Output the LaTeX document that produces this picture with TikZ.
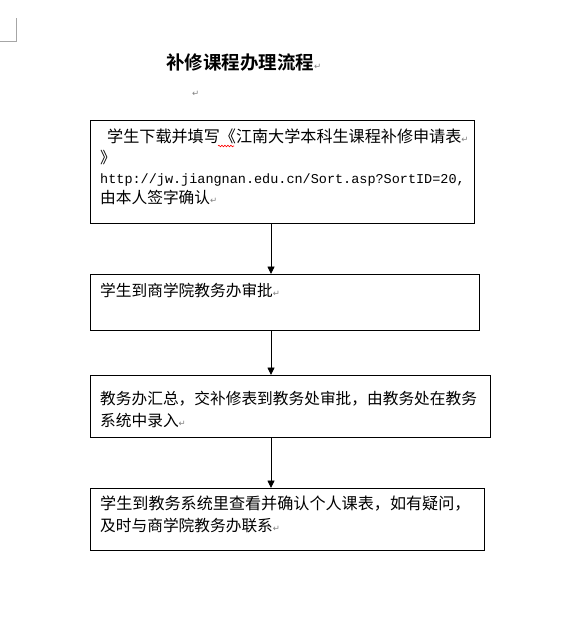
\documentclass[tikz,border=0pt]{standalone}
\usepackage{fontspec}
\newfontfamily\cjk{Noto Sans CJK SC}
\newfontfamily\cjkb{Noto Sans CJK SC Bold}
\newfontfamily\symf{DejaVu Sans}
\setmonofont{Liberation Mono}
\usetikzlibrary{arrows.meta,decorations.pathmorphing}
\newcommand{\pmark}{{\color{gray}\symf\fontsize{8.5pt}{8.5pt}\selectfont ↵}}
\begin{document}
\begin{tikzpicture}[x=1pt,y=-1pt,
  box/.style={draw=black,line width=0.9pt,anchor=north west,inner sep=0pt},
  txt/.style={anchor=base west,inner sep=0pt,font=\cjk\fontsize{15.7pt}{20pt}\selectfont},
  wtxt/.style={txt,font=\cjk\fontsize{16.1pt}{20pt}\selectfont},
  url/.style={anchor=base west,inner sep=0pt,font=\ttfamily\fontsize{13.5pt}{20pt}\selectfont},
  arr/.style={line width=0.9pt,-{Triangle[length=7.5pt,width=7pt]}}]
\useasboundingbox (0,0) rectangle (564,631);
% corner mark
\draw[gray!70,line width=0.7pt] (0,41) -- (16,41) -- (16,18);
% title
\node[anchor=base west,inner sep=0pt,font=\cjkb\fontsize{18.5pt}{22pt}\selectfont] (title) at (166,70) {补修课程办理流程\pmark};
\node[anchor=base west,inner sep=0pt] (pm) at (192,97) {\pmark};
% boxes
\node[box,minimum width=384pt,minimum height=103pt] (b1) at (90,120) {};
\node[box,minimum width=389pt,minimum height=56pt] (b2) at (90,274) {};
\node[box,minimum width=400pt,minimum height=62pt] (b3) at (90,375) {};
\node[box,minimum width=394pt,minimum height=62pt] (b4) at (90,488) {};
% box texts
\node[wtxt] (t1a) at (107,143) {学生下载并填写《江南大学本科生课程补修申请表\pmark};
\node[txt] (t1b) at (100,164) {》};
\node[url] (t1c) at (100,183) {http://jw.jiangnan.edu.cn/Sort.asp?SortID=20,};
\node[txt] (t1d) at (100,204) {由本人签字确认\pmark};
\node[txt] (t2a) at (100,296) {学生到商学院教务办审批\pmark};
\node[txt] (t3a) at (100,404) {教务办汇总，交补修表到教务处审批，由教务处在教务};
\node[txt] (t3b) at (100,426) {系统中录入\pmark};
\node[wtxt] (t4a) at (100,509) {学生到教务系统里查看并确认个人课表，如有疑问，};
\node[txt] (t4b) at (100,531) {及时与商学院教务办联系\pmark};
% spell-check squiggle
\coordinate (sq1) at (218,146);
\coordinate (sq2) at (234,146);
\draw[red,line width=0.6pt,decorate,decoration={snake,amplitude=0.8pt,segment length=3pt}] (sq1) -- (sq2);
% arrows
\coordinate (ax) at (271,0);
\draw[arr] (b1.south -| ax) -- (b2.north -| ax);
\draw[arr] (b2.south -| ax) -- (b3.north -| ax);
\draw[arr] (b3.south -| ax) -- (b4.north -| ax);
\end{tikzpicture}
\end{document}
